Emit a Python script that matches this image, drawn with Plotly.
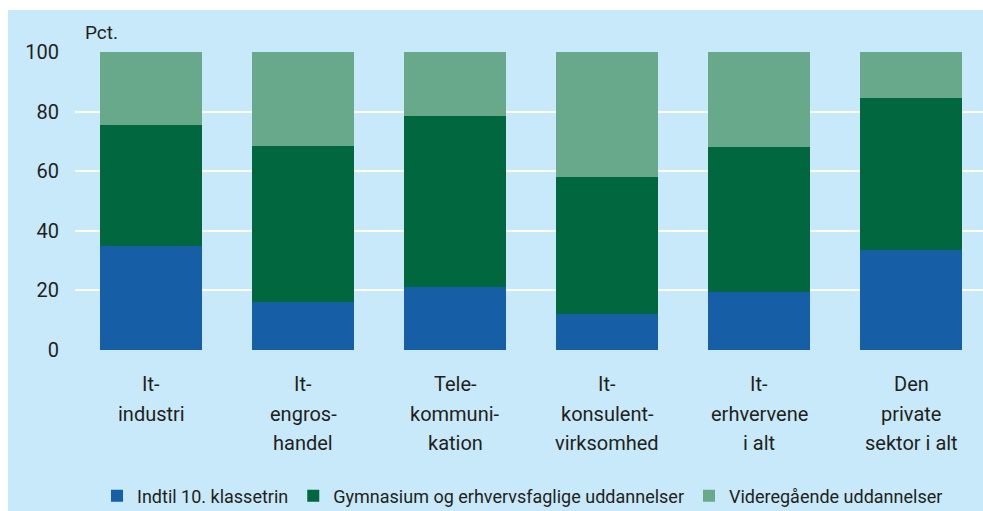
import plotly.graph_objects as go

# Uddannelsesniveau for beskæftigede, fordelt på branche (pct.)
categories = ["It-industri", "It-engroshandel", "Telekommunikation",
              "It-konsulentvirksomhed", "It-erhvervene i alt", "Den private sektor i alt"]
category_lines = [
    ["It-", "industri"],
    ["It-", "engros-", "handel"],
    ["Tele-", "kommuni-", "kation"],
    ["It-", "konsulent-", "virksomhed"],
    ["It-", "erhvervene", "i alt"],
    ["Den", "private", "sektor i alt"],
]
series_names = ["Indtil 10. klassetrin",
                "Gymnasium og erhvervsfaglige uddannelser",
                "Videregående uddannelser"]
grundskole = [35, 16, 21, 12, 19.5, 33.5]
gymnasium = [40.5, 52.5, 57.5, 46, 48.5, 51]
videregaaende = [24.5, 31.5, 21.5, 42, 32, 15.5]
y_ticks = [0, 20, 40, 60, 80, 100]

colors = ["#165fa6", "#00673e", "#67a98a"]
text_color = "#231f20"
font_family = "Roboto, 'Open Sans', sans-serif"

W, H = 983, 511
ML, MT, MB = 75, 52, 161
plot_w = W - ML
plot_h = H - MT - MB

fig = go.Figure()
for name, vals, col in zip(series_names, [grundskole, gymnasium, videregaaende], colors):
    fig.add_trace(go.Bar(
        x=list(range(len(categories))), y=vals, name=name,
        marker=dict(color=col, line=dict(width=0)),
        width=0.67, hovertext=categories,
    ))

# category labels, one annotation per line
for i, lines in enumerate(category_lines):
    for j, line in enumerate(lines):
        fig.add_annotation(
            x=i, y=0, xref="x", yref="paper", text=line, showarrow=False,
            yanchor="middle", xanchor="center", yshift=-34 - 29.5 * j,
            font=dict(size=20, color=text_color, family=font_family),
        )

# unit label
fig.add_annotation(
    x=(83 - ML) / plot_w, y=(plot_h + MT - 33) / plot_h, xref="paper", yref="paper",
    text="Pct.", showarrow=False, xanchor="left", yanchor="middle",
    font=dict(size=19, color=text_color, family=font_family),
)

# light panel behind the whole chart
fig.add_shape(
    type="rect", xref="paper", yref="paper", layer="below",
    x0=(8 - ML) / plot_w, x1=1.01, y0=-(H - MT - plot_h + 5) / plot_h, y1=(plot_h + MT - 10) / plot_h,
    fillcolor="#c7e9f9", line=dict(width=0),
)

fig.update_layout(
    width=W, height=H,
    margin=dict(l=ML, r=0, t=MT, b=MB, pad=0, autoexpand=False),
    barmode="stack",
    bargap=0,
    paper_bgcolor="white",
    plot_bgcolor="#6ccff6",
    font=dict(family=font_family, color=text_color),
    xaxis=dict(range=[-0.5, -0.5 + plot_w / 152], showticklabels=False,
               showgrid=False, zeroline=False, fixedrange=True),
    yaxis=dict(range=[0, 100], tickvals=y_ticks, showgrid=True, gridcolor="white",
               gridwidth=2, zeroline=False, ticks="", ticklabelstandoff=15,
               tickfont=dict(size=20, color=text_color, family=font_family)),
    showlegend=True,
    legend=dict(orientation="h", x=(97 - ML) / plot_w, xanchor="left",
                y=-(496 - MT - plot_h) / plot_h, yanchor="middle",
                bgcolor="rgba(0,0,0,0)", traceorder="normal",
                font=dict(size=18, color=text_color, family=font_family)),
)

fig.write_html("out.html")
